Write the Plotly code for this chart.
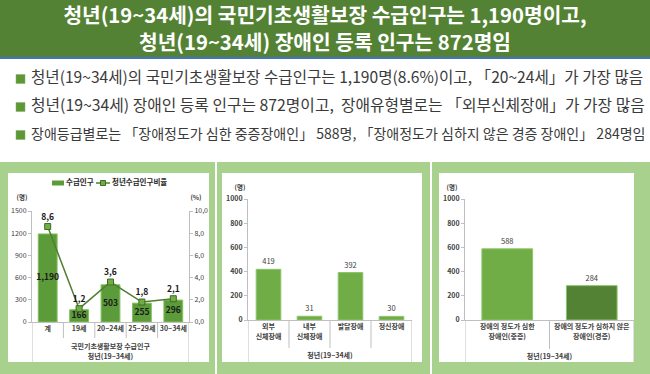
import plotly.graph_objects as go

W, H = 650, 374
def px(x): return x / W
def py(y): return 1 - y / H

FONT = "Noto Sans CJK KR"

# ---------------- data ----------------
title_lines = ["청년(19~34세)의 국민기초생활보장 수급인구는 1,190명이고,",
               "청년(19~34세) 장애인 등록 인구는 872명임"]
bullets = ["청년(19~34세)의 국민기초생활보장 수급인구는 1,190명(8.6%)이고, 「20~24세」가 가장 많음",
           "청년(19~34세) 장애인 등록 인구는 872명이고,  장애유형별로는 「외부신체장애」가 가장 많음",
           "장애등급별로는 「장애정도가 심한 중증장애인」 588명, 「장애정도가 심하지 않은 경증 장애인」 284명임"]

c1_cats = ["계", "19세", "20~24세", "25~29세", "30~34세"]
c1_counts = [1190, 166, 503, 255, 296]
c1_rates = [8.6, 1.2, 3.6, 1.8, 2.1]
c1_rate_labels = ["8,6", "1,2", "3,6", "1,8", "2,1"]
c1_left_ticks = [0, 300, 600, 900, 1200, 1500]
c1_right_ticks = [0, 2, 4, 6, 8, 10]
c1_right_text = ["0,0", "2,0", "4,0", "6,0", "8,0", "10,0"]
c1_group = ["국민기초생활보장 수급인구", "청년(19~34세)"]
c1_legend = ["수급인구", "청년수급인구비율"]

c2_cats = ["외부<br>신체장애", "내부<br>신체장애", "발달장애", "정신장애"]
c2_vals = [419, 31, 392, 30]
c3_cats = ["장애의 정도가 심한<br>장애인(중증)", "장애의 정도가 심하지 않은<br>장애인(경증)"]
c3_vals = [588, 284]
c23_ticks = [0, 200, 400, 600, 800, 1000]
group_label = "청년(19~34세)"
unit_labels = ["(명)", "(%)", "(명)", "(명)"]

# ---------------- colours ----------------
TITLE_BG = "#548235"
FRAME = "#a9d18e"
AXIS = "#bfbfbf"
TXT = "#404040"
BAR1 = "#5b9b3a"
LINE1 = "#4e7f2e"
MARK1 = "#70ad47"

fig = go.Figure()

# chart 1
fig.add_trace(go.Bar(x=c1_cats, y=c1_counts, xaxis="x", yaxis="y", name=c1_legend[0],
                     marker=dict(color=BAR1, line=dict(color="#86c05f", width=1)),
                     showlegend=False, hoverinfo="skip"))
fig.add_trace(go.Scatter(x=c1_cats, y=[v / 2 for v in c1_counts], xaxis="x", yaxis="y",
                         mode="text", text=[f"{v:,}" for v in c1_counts], showlegend=False,
                         textfont=dict(family=FONT, size=8.5, color="#1a1a1a", weight="bold"),
                         hoverinfo="skip", cliponaxis=False))
fig.add_trace(go.Scatter(x=c1_cats, y=c1_rates, xaxis="x", yaxis="y4", name=c1_legend[1],
                         mode="lines+markers+text", text=c1_rate_labels, textposition="top center",
                         line=dict(color=LINE1, width=1.5),
                         marker=dict(symbol="square", size=6, color=MARK1,
                                     line=dict(color="#3f6b24", width=1)),
                         textfont=dict(family=FONT, size=8.5, color="#1a1a1a", weight="bold"),
                         showlegend=False, cliponaxis=False, hoverinfo="skip"))

# chart 2
fig.add_trace(go.Bar(x=c2_cats, y=c2_vals, xaxis="x2", yaxis="y2", showlegend=False,
                     marker=dict(color="#70ad47", line=dict(color="#8cc46a", width=1)),
                     text=[str(v) for v in c2_vals], textposition="outside",
                     textfont=dict(family=FONT, size=7.5, color=TXT),
                     cliponaxis=False, hoverinfo="skip"))
# chart 3
fig.add_trace(go.Bar(x=c3_cats, y=c3_vals, xaxis="x3", yaxis="y3", showlegend=False,
                     marker=dict(color=["#70ad47", "#548235"], line=dict(color="#8cc46a", width=1)),
                     text=[str(v) for v in c3_vals], textposition="outside",
                     textfont=dict(family=FONT, size=7.5, color=TXT),
                     cliponaxis=False, hoverinfo="skip"))

# free text on a page-pixel overlay axis
def txt(t, x, y, size, color, bold=False, pos="middle center"):
    fig.add_trace(go.Scatter(x=[x], y=[y], xaxis="x5", yaxis="y5", mode="text", text=[t],
                             textposition=pos, showlegend=False, hoverinfo="skip",
                             cliponaxis=False,
                             textfont=dict(family=FONT, size=size, color=color,
                                           weight="bold" if bold else "normal")))

txt(title_lines[0], 325, 17.5, 20.3, "white", True)
txt(title_lines[1], 325, 45, 20.3, "white", True)
BUL_Y = [79, 107, 135]
for t, yc, fs in zip(bullets, BUL_Y, [15.6, 15.8, 14.0]):
    txt(t, 31, yc, fs, "#3a3a3a", False, "middle right")
for t, (x, y) in zip(unit_labels, [(22, 198), (196, 198), (240, 188), (452, 188)]):
    txt(t, x, y, 6.5, TXT, True)
mid1 = (32 + 189) / 2
txt(c1_group[0], mid1, 347, 7, TXT, True)
txt(c1_group[1], mid1, 357, 7, TXT, True)
txt(group_label, (248 + 412) / 2, 356, 7, TXT, True)
txt(group_label, (465 + 634) / 2, 357, 7, TXT, True)
# legend texts
txt(c1_legend[0], 66, 183, 7.5, "#262626", True, "middle right")
txt(c1_legend[1], 112, 183, 7.5, "#262626", True, "middle right")

def xax(x0, x1, anchor, n):
    return dict(domain=[px(x0), px(x1)], anchor=anchor, type="category", range=[-0.5, n - 0.5],
                showline=True, linecolor=AXIS, linewidth=1, ticks="", showgrid=False,
                automargin=False, zeroline=False,
                tickfont=dict(family=FONT, size=7, color=TXT, weight="bold"), fixedrange=True)

def yax(y0, y1, anchor, rng, tv, tt=None, side="left", bold=False):
    d = dict(domain=[py(y1), py(y0)], anchor=anchor, range=rng, tickvals=tv, showline=True,
             linecolor=AXIS, linewidth=1, ticks="outside", ticklen=3, tickcolor=AXIS,
             showgrid=False, zeroline=False, side=side, automargin=False, fixedrange=True,
             tickfont=dict(family=FONT, size=7, color=TXT, weight="bold" if bold else "normal"))
    if tt:
        d["ticktext"] = tt
    return d

layout = dict(
    template="none",
    width=W, height=H, margin=dict(l=0, r=0, t=0, b=0, pad=0, autoexpand=False),
    paper_bgcolor="white", plot_bgcolor="rgba(0,0,0,0)",
    bargap=0.4, showlegend=False,
    font=dict(family=FONT, color=TXT),
    xaxis=xax(32, 189, "y", len(c1_cats)),
    yaxis=yax(211, 322, "x", [0, 1500], c1_left_ticks),
    yaxis4=dict(yax(211, 322, "x", [0, 10], c1_right_ticks, c1_right_text, side="right"),
                overlaying="y"),
    xaxis2=xax(248, 412, "y2", len(c2_cats)),
    yaxis2=yax(199, 320, "x2", [0, 1000], c23_ticks, bold=True),
    xaxis3=xax(465, 634, "y3", len(c3_cats)),
    yaxis3=yax(199, 320, "x3", [0, 1000], c23_ticks, bold=True),
    xaxis5=dict(domain=[0, 1], anchor="y5", range=[0, W], visible=False, fixedrange=True),
    yaxis5=dict(domain=[0, 1], anchor="x5", range=[H, 0], visible=False, fixedrange=True),
)
fig.update_layout(**layout)

shapes = []
# title band
shapes.append(dict(type="rect", xref="paper", yref="paper", x0=0, x1=1, y0=py(57), y1=1,
                   fillcolor=TITLE_BG, line_width=0, layer="below"))
shapes.append(dict(type="rect", xref="paper", yref="paper", x0=0, x1=1, y0=py(59), y1=py(57),
                   fillcolor="#4472c4", line_width=0, layer="below"))
# bullets
for yc in BUL_Y:
    shapes.append(dict(type="rect", xref="paper", yref="paper", x0=px(16), x1=px(25),
                       y0=py(yc + 4.5), y1=py(yc - 4.5), fillcolor="#5f9638",
                       line=dict(color="#7fb35a", width=0.5), layer="below"))
# frames
for (fx0, fx1, ix0, ix1) in [(0, 215, 8, 209), (217, 430, 222, 422), (432, 650, 439, 634)]:
    shapes.append(dict(type="rect", xref="paper", yref="paper", x0=px(fx0), x1=px(fx1),
                       y0=0, y1=py(162), fillcolor=FRAME, line_width=0, layer="below"))
    shapes.append(dict(type="rect", xref="paper", yref="paper", x0=px(ix0), x1=px(ix1),
                       y0=py(362), y1=py(173), fillcolor="white", line_width=0, layer="below"))
# legend glyphs (chart 1)
shapes.append(dict(type="rect", xref="paper", yref="paper", x0=px(52), x1=px(64),
                   y0=py(185.5), y1=py(180.5), fillcolor=BAR1, line_width=0))
shapes.append(dict(type="line", xref="paper", yref="paper", x0=px(96), x1=px(110),
                   y0=py(183), y1=py(183), line=dict(color=LINE1, width=1.5)))
shapes.append(dict(type="rect", xref="paper", yref="paper", x0=px(100.5), x1=px(105.5),
                   y0=py(185.5), y1=py(180.5), fillcolor=MARK1,
                   line=dict(color="#3f6b24", width=1)))

# category separators
def seps(xref, n, y_axis, y_mid):
    for i in range(n + 1):
        xv = i - 0.5
        ybot = 362 if i in (0, n) else y_mid
        shapes.append(dict(type="line", xref=xref, yref="paper", x0=xv, x1=xv,
                           y0=py(ybot), y1=py(y_axis), line=dict(color=AXIS, width=1)))
seps("x", len(c1_cats), 322, 338)
seps("x2", len(c2_cats), 320, 348)
seps("x3", len(c3_cats), 320, 349)
fig.update_layout(shapes=shapes)

fig.write_html("out.html", config={"displayModeBar": False},
               post_script="document.body.style.margin='0';document.body.style.overflow='hidden';")
